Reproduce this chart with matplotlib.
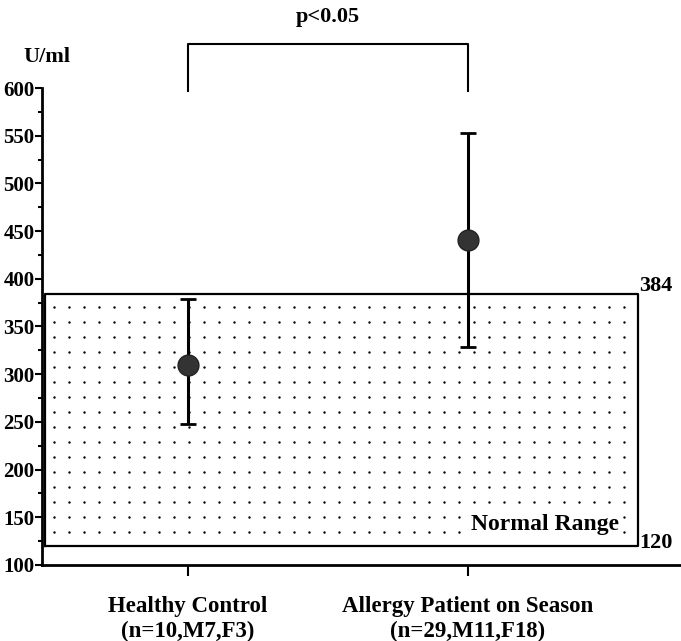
import matplotlib
matplotlib.use("Agg")
import matplotlib.pyplot as plt
import numpy as np

categories = ["Healthy Control\n(n=10,M7,F3)", "Allergy Patient on Season\n(n=29,M11,F18)"]
means = [310, 441]
err_low = [248, 328]
err_high = [379, 553]
normal_low = 120
normal_high = 384
yticks = [100, 150, 200, 250, 300, 350, 400, 450, 500, 550, 600]

plt.rcParams['font.family'] = ['Liberation Serif', 'DejaVu Serif']
plt.rcParams['font.weight'] = 'bold'

fig = plt.figure(figsize=(6.81, 6.41), dpi=100)
ax = fig.add_axes([0.0617, 0.1186, 0.9383, 0.7441])

x = np.arange(len(categories))
xl, xr = -0.521, 1.761
ax.set_xlim(xl, xr)
ax.set_ylim(100, 600)

# normal range box
bl, br = -0.51, 1.607
ax.plot([bl, br, br, bl, bl], [normal_low, normal_low, normal_high, normal_high, normal_low],
        color='black', lw=1.6, zorder=2)
gx = np.arange(bl + 0.032, br - 0.01, 0.0536)
gy = np.arange(normal_high - 14, normal_low + 3, -15.7)
GX, GY = np.meshgrid(gx, gy)
ax.scatter(GX.ravel(), GY.ravel(), s=3.0, color='black', zorder=1, lw=0)
ax.text(1.275, 142, "Normal Range", ha='center', va='center', fontsize=17, weight='bold',
        bbox=dict(facecolor='white', edgecolor='none', pad=1), zorder=3)
ax.text(br + 0.005, normal_high - 2, str(normal_high), ha='left', va='bottom', fontsize=16, weight='bold')
ax.text(br + 0.005, normal_low + 3, str(normal_low), ha='left', va='center', fontsize=16, weight='bold')

# points and error bars
m = np.array(means)
yerr = np.array([m - np.array(err_low), np.array(err_high) - m])
ax.errorbar(x, means, yerr=yerr, fmt='o', color='black', mfc='#333333', mec='#222222',
            ms=15, ecolor='black', elinewidth=2.2, capsize=5.5, capthick=2, zorder=5)

# significance bracket
ax.plot([x[0], x[0], x[1], x[1]], [597, 646, 646, 597], color='black', lw=1.5, clip_on=False)
ax.text((x[0] + x[1]) / 2, 674, "p<0.05", ha='center', va='center', fontsize=16, weight='bold')
ax.text(-0.505, 632, "U/ml", ha='center', va='center', fontsize=16, weight='bold')

ax.set_xticks(x)
ax.set_xticklabels(categories, fontsize=16.5, weight='bold', linespacing=1.25)
ax.set_yticks(yticks)
ax.set_yticklabels([str(v) for v in yticks], fontsize=15, weight='bold')
ax.set_yticks(np.arange(125, 600, 50), minor=True)
ax.tick_params(axis='y', which='major', direction='out', length=5, width=1.5, pad=0.5)
ax.tick_params(axis='y', which='minor', direction='out', length=3, width=1.5)
ax.tick_params(axis='x', direction='out', length=8, width=1.5, pad=14)
for s in ['top', 'right']:
    ax.spines[s].set_visible(False)
ax.spines['left'].set_linewidth(2)
ax.spines['bottom'].set_linewidth(2)

fig.savefig("out.png", dpi=100)
